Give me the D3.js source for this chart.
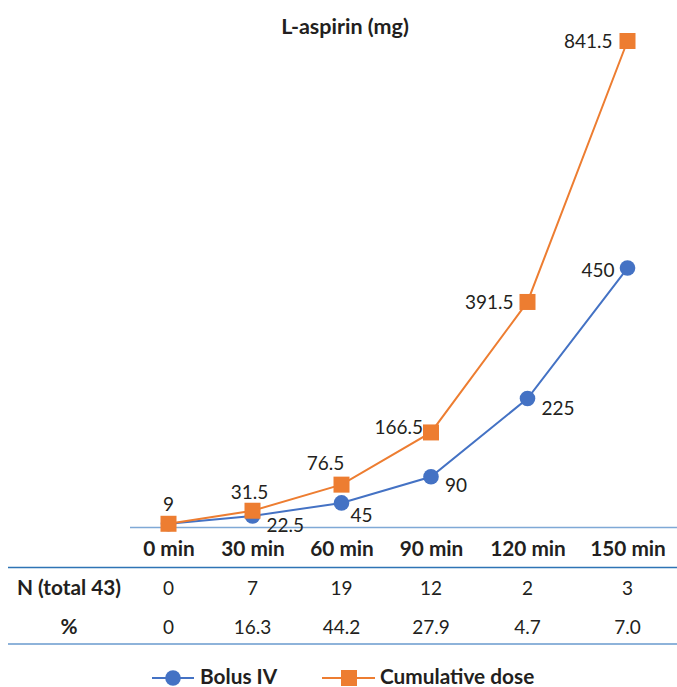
<!DOCTYPE html>
<html>
<head>
<meta charset="utf-8">
<script src="https://cdn.jsdelivr.net/npm/d3@7"></script>
<style>
  html, body { margin: 0; padding: 0; background: #fff; }
  svg { display: block; font-family: Lato, "Open Sans", sans-serif; }
</style>
</head>
<body>
<svg id="chart" width="677" height="687"></svg>
<script>
// ---- data ----
const categories = ["0 min", "30 min", "60 min", "90 min", "120 min", "150 min"];
const bolusIV = [9, 22.5, 45, 90, 225, 450];
const cumulativeDose = [9, 31.5, 76.5, 166.5, 391.5, 841.5];
const nValues = ["0", "7", "19", "12", "2", "3"];
const pctValues = ["0", "16.3", "44.2", "27.9", "4.7", "7.0"];
const rowLabels = ["N (total 43)", "%"];
const seriesNames = ["Bolus IV", "Cumulative dose"];
const title = "L-aspirin (mg)";

// ---- layout / style ----
const W = 677, H = 687;
const colEdges = [130, 207, 298, 385, 477, 578, 677];
const colCenters = colEdges.slice(0, -1).map((e, i) => (e + colEdges[i + 1]) / 2);
const blue = "#4472C4", orange = "#ED7D31", textCol = "#231F20";
const fs = 19;      // regular text
const fsB = 20.8;   // bold text

// label offsets (dx, dy, anchor) per point
const bolusLabel = [null, [14, 9, "start"], [9, 12, "start"], [14, 9, "start"], [14, 10, "start"], [-13, 2, "end"]];
const cumLabel = [[0, -19, "middle"], [-3, -18, "middle"], [-16, -21, "middle"], [-8, -5, "end"], [-14, 0, "end"], [-15, 0, "end"]];

const svg = d3.select("#chart");

const x = d3.scaleOrdinal().domain(categories).range(colCenters);
const y = d3.scaleLinear().domain([0, 841.5]).range([529, 41]);

// title
svg.append("text").attr("x", 345).attr("y", 34).attr("text-anchor", "middle")
  .attr("font-weight", "bold").attr("font-size", 21.5).attr("fill", textCol).text(title);

// baseline axis
svg.append("line").attr("x1", colEdges[0]).attr("x2", W).attr("y1", 527.5).attr("y2", 527.5)
  .attr("stroke", "#7FA9D6").attr("stroke-width", 1.6);

// table lines
svg.append("line").attr("x1", 8).attr("x2", W).attr("y1", 567.5).attr("y2", 567.5)
  .attr("stroke", "#2E74B5").attr("stroke-width", 1.6);
svg.append("line").attr("x1", 8).attr("x2", W).attr("y1", 644).attr("y2", 644)
  .attr("stroke", "#8EB3DA").attr("stroke-width", 2.2);

// category labels
const xAxis = d3.axisBottom(x).tickSize(0).tickPadding(0);
const ax = svg.append("g").attr("transform", "translate(0,541)").call(xAxis);
ax.select(".domain").remove();
ax.selectAll("text").attr("font-family", "Lato, 'Open Sans', sans-serif")
  .attr("font-size", fsB).attr("font-weight", "bold").attr("fill", textCol).attr("dy", "0.71em");

// table rows
const rows = [nValues, pctValues];
const rowY = [595, 634];
rows.forEach((vals, r) => {
  svg.append("text").attr("x", 69).attr("y", rowY[r]).attr("text-anchor", "middle")
    .attr("font-weight", "bold").attr("font-size", fsB).attr("fill", textCol).text(rowLabels[r]);
  svg.selectAll(null).data(vals).enter().append("text")
    .attr("x", (d, i) => x(categories[i])).attr("y", rowY[r]).attr("text-anchor", "middle")
    .attr("font-size", fs).attr("fill", textCol).text(d => d);
});

// lines
const line = d3.line().x((d, i) => x(categories[i])).y(d => y(d));
svg.append("path").datum(bolusIV).attr("d", line).attr("fill", "none")
  .attr("stroke", blue).attr("stroke-width", 2);
svg.append("path").datum(cumulativeDose).attr("d", line).attr("fill", "none")
  .attr("stroke", orange).attr("stroke-width", 2);

// markers
svg.selectAll(null).data(bolusIV).enter().append("circle")
  .attr("cx", (d, i) => x(categories[i])).attr("cy", d => y(d)).attr("r", 7.8).attr("fill", blue);
svg.selectAll(null).data(cumulativeDose).enter().append("rect")
  .attr("x", (d, i) => x(categories[i]) - 8).attr("y", d => y(d) - 8)
  .attr("width", 16).attr("height", 16).attr("fill", orange);

// data labels
function addLabels(vals, offs) {
  vals.forEach((v, i) => {
    const o = offs[i];
    if (!o) return;
    svg.append("text").attr("x", x(categories[i]) + o[0]).attr("y", y(v) + o[1])
      .attr("dy", "0.35em").attr("text-anchor", o[2])
      .attr("font-size", fs).attr("fill", textCol).text(v);
  });
}
addLabels(bolusIV, bolusLabel);
addLabels(cumulativeDose, cumLabel);

// legend
const leg = svg.append("g");
leg.append("line").attr("x1", 152).attr("x2", 194).attr("y1", 678).attr("y2", 678)
  .attr("stroke", blue).attr("stroke-width", 2);
leg.append("circle").attr("cx", 173).attr("cy", 678).attr("r", 7.8).attr("fill", blue);
leg.append("text").attr("x", 200).attr("y", 684).attr("font-weight", "bold")
  .attr("font-size", fsB).attr("fill", textCol).text(seriesNames[0]);
leg.append("line").attr("x1", 322).attr("x2", 375).attr("y1", 678).attr("y2", 678)
  .attr("stroke", orange).attr("stroke-width", 2);
leg.append("rect").attr("x", 341).attr("y", 670).attr("width", 16).attr("height", 16).attr("fill", orange);
leg.append("text").attr("x", 380).attr("y", 684).attr("font-weight", "bold")
  .attr("font-size", fsB).attr("fill", textCol).text(seriesNames[1]);
</script>
</body>
</html>
